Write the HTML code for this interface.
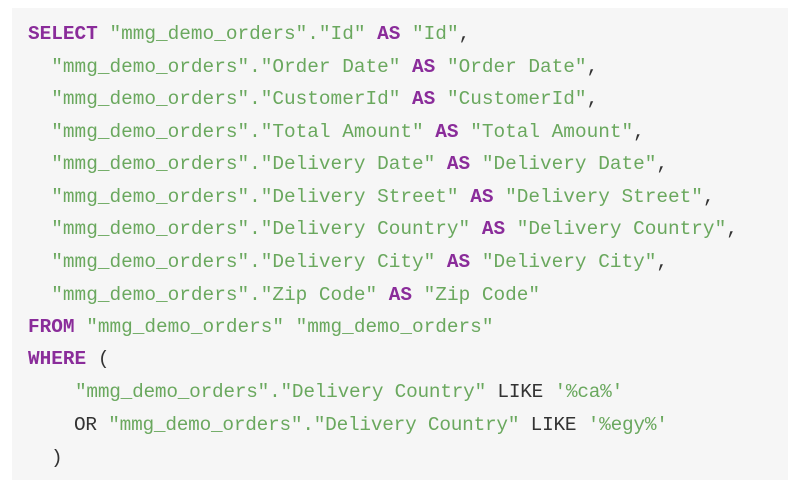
<!DOCTYPE html>
<html><head><style>
html,body{margin:0;padding:0;background:#fff;width:788px;height:490px;overflow:hidden}
.box{position:absolute;left:12px;top:8px;width:776px;height:472px;background:#f6f6f6}
.l{position:absolute;left:28px;white-space:pre;font-family:"Liberation Mono",monospace;font-size:19.4px;color:#333;line-height:22px}
.k{color:#8a2c9a;font-weight:bold}
.s{color:#6aa85e}
</style></head><body>
<div class="box"></div>
<div class="l" style="top:23px"><span class="k">SELECT</span> <span class="s">"mmg_demo_orders"."Id"</span> <span class="k">AS</span> <span class="s">"Id"</span>,</div>
<div class="l" style="top:56px">  <span class="s">"mmg_demo_orders"."Order Date"</span> <span class="k">AS</span> <span class="s">"Order Date"</span>,</div>
<div class="l" style="top:88px">  <span class="s">"mmg_demo_orders"."CustomerId"</span> <span class="k">AS</span> <span class="s">"CustomerId"</span>,</div>
<div class="l" style="top:121px">  <span class="s">"mmg_demo_orders"."Total Amount"</span> <span class="k">AS</span> <span class="s">"Total Amount"</span>,</div>
<div class="l" style="top:153px">  <span class="s">"mmg_demo_orders"."Delivery Date"</span> <span class="k">AS</span> <span class="s">"Delivery Date"</span>,</div>
<div class="l" style="top:186px">  <span class="s">"mmg_demo_orders"."Delivery Street"</span> <span class="k">AS</span> <span class="s">"Delivery Street"</span>,</div>
<div class="l" style="top:218px">  <span class="s">"mmg_demo_orders"."Delivery Country"</span> <span class="k">AS</span> <span class="s">"Delivery Country"</span>,</div>
<div class="l" style="top:251px">  <span class="s">"mmg_demo_orders"."Delivery City"</span> <span class="k">AS</span> <span class="s">"Delivery City"</span>,</div>
<div class="l" style="top:284px">  <span class="s">"mmg_demo_orders"."Zip Code"</span> <span class="k">AS</span> <span class="s">"Zip Code"</span></div>
<div class="l" style="top:316px"><span class="k">FROM</span> <span class="s">"mmg_demo_orders" "mmg_demo_orders"</span></div>
<div class="l" style="top:348px"><span class="k">WHERE</span> (</div>
<div class="l" style="top:381px;left:75px;letter-spacing:-0.22px"><span class="s">"mmg_demo_orders"."Delivery Country"</span> LIKE <span class="s">'%ca%'</span></div>
<div class="l" style="top:414px;left:74px;letter-spacing:-0.22px">OR <span class="s">"mmg_demo_orders"."Delivery Country"</span> LIKE <span class="s">'%egy%'</span></div>
<div class="l" style="top:447px;left:51px">)</div>
</body></html>
